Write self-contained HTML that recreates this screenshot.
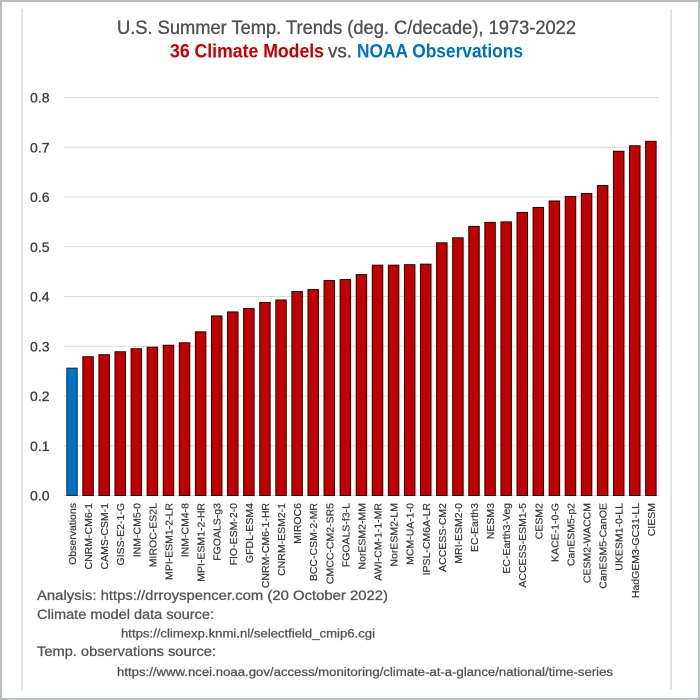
<!DOCTYPE html>
<html><head><meta charset="utf-8"><style>
html,body{margin:0;padding:0;background:#fff;}
svg{display:block;}
text{font-family:"Liberation Sans",sans-serif;}
</style></head><body>
<svg width="700" height="700" viewBox="0 0 700 700" xmlns="http://www.w3.org/2000/svg">
<rect x="0" y="0" width="700" height="700" fill="#fff"/>
<rect x="1" y="1" width="698" height="698" fill="none" stroke="#b8c0c4" stroke-width="2"/>
<line x1="22" y1="9" x2="22" y2="690" stroke="#dcdcdc" stroke-width="1.5"/>
<line x1="671" y1="9" x2="671" y2="690" stroke="#dcdcdc" stroke-width="1.5"/>

<!-- titles -->
<text x="117" y="34" font-size="19.5" fill="#505050" stroke="#505050" stroke-width="0.35" textLength="459" lengthAdjust="spacingAndGlyphs">U.S. Summer Temp. Trends (deg. C/decade), 1973-2022</text>
<text x="170" y="57.5" font-size="19" font-weight="bold" fill="#C00000" textLength="154" lengthAdjust="spacingAndGlyphs">36 Climate Models</text>
<text x="328" y="57.5" font-size="19" fill="#505050" stroke="#505050" stroke-width="0.35" textLength="24" lengthAdjust="spacingAndGlyphs">vs.</text>
<text x="357" y="57.5" font-size="19" font-weight="bold" fill="#0070C0" textLength="166" lengthAdjust="spacingAndGlyphs">NOAA Observations</text>

<!-- gridlines -->
<g stroke="#d9d9d9" stroke-width="1">
<line x1="64" y1="97.5" x2="658.7" y2="97.5"/>
<line x1="64" y1="147.25" x2="658.7" y2="147.25"/>
<line x1="64" y1="197" x2="658.7" y2="197"/>
<line x1="64" y1="246.75" x2="658.7" y2="246.75"/>
<line x1="64" y1="296.5" x2="658.7" y2="296.5"/>
<line x1="64" y1="346.25" x2="658.7" y2="346.25"/>
<line x1="64" y1="396" x2="658.7" y2="396"/>
<line x1="64" y1="445.75" x2="658.7" y2="445.75"/>
<line x1="64" y1="495.5" x2="658.7" y2="495.5"/>
</g>

<!-- y labels -->
<g font-size="14" fill="#3c3c3c" stroke="#3c3c3c" stroke-width="0.3" text-anchor="end">
<text x="49.5" y="102.5">0.8</text>
<text x="49.5" y="152.25">0.7</text>
<text x="49.5" y="202">0.6</text>
<text x="49.5" y="251.75">0.5</text>
<text x="49.5" y="301.5">0.4</text>
<text x="49.5" y="351.25">0.3</text>
<text x="49.5" y="401">0.2</text>
<text x="49.5" y="450.75">0.1</text>
<text x="49.5" y="500.5">0.0</text>
</g>

<!-- bars -->
<g stroke="#2a0000" stroke-width="1" fill="#C00000">
<rect x="66.75" y="368.14" width="10.5" height="127.36" fill="#0070C0" stroke="#12324f"/>
<rect x="82.83" y="356.7" width="10.5" height="138.8"/>
<rect x="98.91" y="354.71" width="10.5" height="140.79"/>
<rect x="114.99" y="351.72" width="10.5" height="143.78"/>
<rect x="131.07" y="348.74" width="10.5" height="146.76"/>
<rect x="147.15" y="347.24" width="10.5" height="148.26"/>
<rect x="163.23" y="345.25" width="10.5" height="150.25"/>
<rect x="179.31" y="342.77" width="10.5" height="152.73"/>
<rect x="195.39" y="331.82" width="10.5" height="163.68"/>
<rect x="211.47" y="315.9" width="10.5" height="179.6"/>
<rect x="227.55" y="311.92" width="10.5" height="183.58"/>
<rect x="243.63" y="308.44" width="10.5" height="187.06"/>
<rect x="259.71" y="302.47" width="10.5" height="193.03"/>
<rect x="275.79" y="299.98" width="10.5" height="195.52"/>
<rect x="291.87" y="291.52" width="10.5" height="203.98"/>
<rect x="307.95" y="289.53" width="10.5" height="205.97"/>
<rect x="324.03" y="280.58" width="10.5" height="214.92"/>
<rect x="340.11" y="279.58" width="10.5" height="215.92"/>
<rect x="356.19" y="274.61" width="10.5" height="220.89"/>
<rect x="372.27" y="265.16" width="10.5" height="230.34"/>
<rect x="388.35" y="265.16" width="10.5" height="230.34"/>
<rect x="404.43" y="264.66" width="10.5" height="230.84"/>
<rect x="420.51" y="264.16" width="10.5" height="231.34"/>
<rect x="436.59" y="242.77" width="10.5" height="252.73"/>
<rect x="452.67" y="237.79" width="10.5" height="257.71"/>
<rect x="468.75" y="226.35" width="10.5" height="269.15"/>
<rect x="484.83" y="222.37" width="10.5" height="273.13"/>
<rect x="500.91" y="221.87" width="10.5" height="273.63"/>
<rect x="516.99" y="212.42" width="10.5" height="283.08"/>
<rect x="533.07" y="207.45" width="10.5" height="288.05"/>
<rect x="549.15" y="200.98" width="10.5" height="294.52"/>
<rect x="565.23" y="196.5" width="10.5" height="299.0"/>
<rect x="581.31" y="193.52" width="10.5" height="301.98"/>
<rect x="597.39" y="185.56" width="10.5" height="309.94"/>
<rect x="613.47" y="151.23" width="10.5" height="344.27"/>
<rect x="629.55" y="145.76" width="10.5" height="349.74"/>
<rect x="645.63" y="141.28" width="10.5" height="354.22"/>
</g>

<!-- x labels -->
<g font-size="10.5" fill="#383838" stroke="#383838" stroke-width="0.2" text-anchor="end">
<text transform="translate(76,503) rotate(-90)">Observations</text>
<text transform="translate(92.08,503) rotate(-90)">CNRM-CM6-1</text>
<text transform="translate(108.16,503) rotate(-90)">CAMS-CSM-1</text>
<text transform="translate(124.24,503) rotate(-90)">GISS-E2-1-G</text>
<text transform="translate(140.32,503) rotate(-90)">INM-CM5-0</text>
<text transform="translate(156.4,503) rotate(-90)">MIROC-ES2L</text>
<text transform="translate(172.48,503) rotate(-90)">MPI-ESM1-2-LR</text>
<text transform="translate(188.56,503) rotate(-90)">INM-CM4-8</text>
<text transform="translate(204.64,503) rotate(-90)">MPI-ESM1-2-HR</text>
<text transform="translate(220.72,503) rotate(-90)">FGOALS-g3</text>
<text transform="translate(236.8,503) rotate(-90)">FIO-ESM-2-0</text>
<text transform="translate(252.88,503) rotate(-90)">GFDL-ESM4</text>
<text transform="translate(268.96,503) rotate(-90)">CNRM-CM6-1-HR</text>
<text transform="translate(285.04,503) rotate(-90)">CNRM-ESM2-1</text>
<text transform="translate(301.12,503) rotate(-90)">MIROC6</text>
<text transform="translate(317.2,503) rotate(-90)">BCC-CSM-2-MR</text>
<text transform="translate(333.28,503) rotate(-90)">CMCC-CM2-SR5</text>
<text transform="translate(349.36,503) rotate(-90)">FGOALS-f3-L</text>
<text transform="translate(365.44,503) rotate(-90)">NorESM2-MM</text>
<text transform="translate(381.52,503) rotate(-90)">AWI-CM-1-1-MR</text>
<text transform="translate(397.6,503) rotate(-90)">NorESM2-LM</text>
<text transform="translate(413.68,503) rotate(-90)">MCM-UA-1-0</text>
<text transform="translate(429.76,503) rotate(-90)">IPSL-CM6A-LR</text>
<text transform="translate(445.84,503) rotate(-90)">ACCESS-CM2</text>
<text transform="translate(461.92,503) rotate(-90)">MRI-ESM2-0</text>
<text transform="translate(478,503) rotate(-90)">EC-Earth3</text>
<text transform="translate(494.08,503) rotate(-90)">NESM3</text>
<text transform="translate(510.16,503) rotate(-90)">EC-Earth3-Veg</text>
<text transform="translate(526.24,503) rotate(-90)">ACCESS-ESM1-5</text>
<text transform="translate(542.32,503) rotate(-90)">CESM2</text>
<text transform="translate(558.4,503) rotate(-90)">KACE-1-0-G</text>
<text transform="translate(574.48,503) rotate(-90)">CanESM5-p2</text>
<text transform="translate(590.56,503) rotate(-90)">CESM2-WACCM</text>
<text transform="translate(606.64,503) rotate(-90)">CanESM5-CanOE</text>
<text transform="translate(622.72,503) rotate(-90)">UKESM1-0-LL</text>
<text transform="translate(638.8,503) rotate(-90)">HadGEM3-GC31-LL</text>
<text transform="translate(654.88,503) rotate(-90)">CIESM</text>
</g>

<!-- footer -->
<g fill="#555555" stroke="#555555" stroke-width="0.3">
<text x="37" y="600" font-size="13.5" textLength="351" lengthAdjust="spacingAndGlyphs">Analysis: https://drroyspencer.com (20 October 2022)</text>
<text x="37" y="619" font-size="13.5" textLength="177" lengthAdjust="spacingAndGlyphs">Climate model data source:</text>
<text x="121" y="637.5" font-size="11.5" textLength="254" lengthAdjust="spacingAndGlyphs">https://climexp.knmi.nl/selectfield_cmip6.cgi</text>
<text x="37" y="656" font-size="13.5" textLength="179" lengthAdjust="spacingAndGlyphs">Temp. observations source:</text>
<text x="117" y="676" font-size="11.5" textLength="496" lengthAdjust="spacingAndGlyphs">https://www.ncei.noaa.gov/access/monitoring/climate-at-a-glance/national/time-series</text>
</g>
</svg>
</body></html>
